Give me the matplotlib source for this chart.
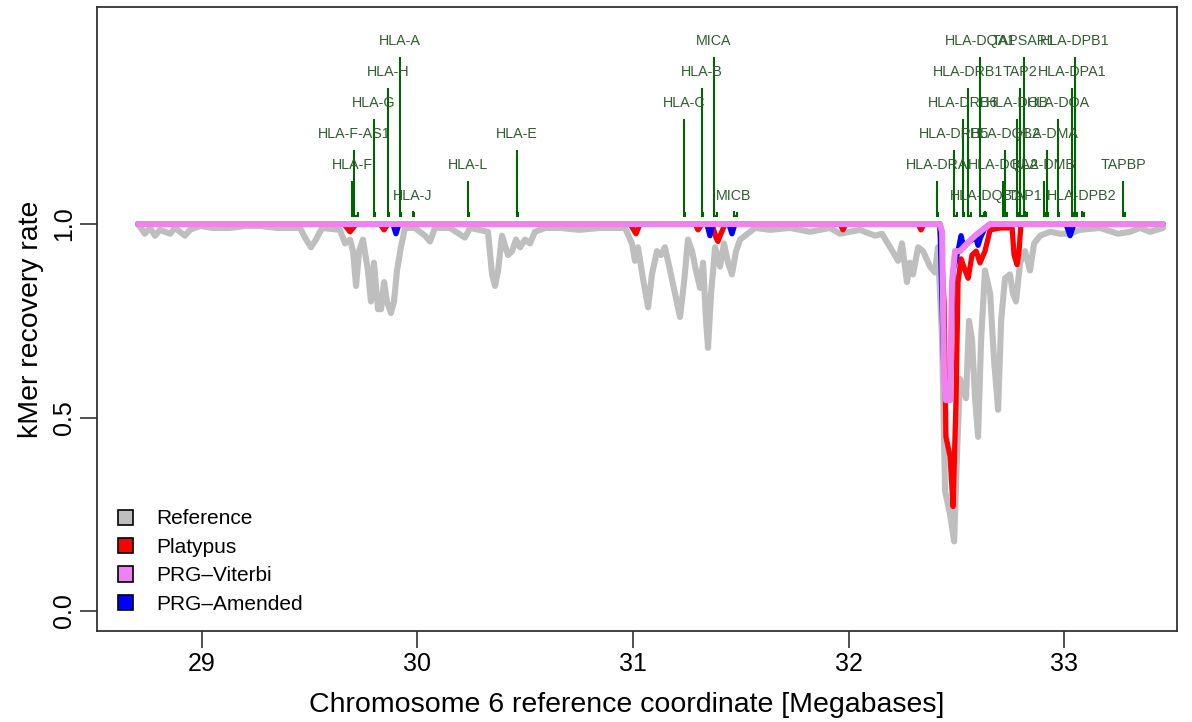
"""kMer recovery rate across the MHC region, chromosome 6."""

import matplotlib
matplotlib.use("Agg")
import matplotlib.pyplot as plt
from matplotlib.patches import Patch

plt.rcParams["font.family"] = ["Liberation Sans", "DejaVu Sans"]

# curves: position [Mb] and recovery rate
ref_x = [28.703, 28.735, 28.759, 28.782, 28.805, 28.852, 28.875, 28.921, 28.944, 28.991,
         29.050, 29.130, 29.200, 29.269, 29.350, 29.455, 29.483, 29.506, 29.529, 29.557,
         29.640, 29.664, 29.687, 29.701, 29.715, 29.729, 29.747, 29.770, 29.784, 29.798,
         29.817, 29.831, 29.845, 29.858, 29.877, 29.891, 29.905, 29.923, 29.942, 29.988,
         30.035, 30.058, 30.081, 30.151, 30.220, 30.244, 30.327, 30.346, 30.360, 30.374,
         30.392, 30.420, 30.439, 30.457, 30.476, 30.499, 30.522, 30.545, 30.592, 30.661,
         30.750, 30.847, 30.963, 30.995, 31.009, 31.023, 31.046, 31.070, 31.088, 31.111,
         31.130, 31.148, 31.172, 31.195, 31.218, 31.237, 31.255, 31.274, 31.292, 31.311,
         31.325, 31.339, 31.348, 31.362, 31.381, 31.404, 31.422, 31.441, 31.459, 31.478,
         31.497, 31.520, 31.566, 31.636, 31.729, 31.821, 31.914, 31.960, 32.053, 32.123,
         32.155, 32.193, 32.230, 32.248, 32.271, 32.285, 32.299, 32.323, 32.346, 32.378,
         32.401, 32.415, 32.434, 32.448, 32.471, 32.490, 32.503, 32.517, 32.531, 32.545,
         32.559, 32.573, 32.587, 32.601, 32.615, 32.633, 32.657, 32.675, 32.694, 32.708,
         32.726, 32.749, 32.763, 32.777, 32.796, 32.819, 32.842, 32.861, 32.889, 32.935,
         32.981, 33.028, 33.074, 33.167, 33.250, 33.306, 33.353, 33.399, 33.459]
ref_y = [1.00, 0.975, 0.99, 0.97, 0.985, 0.975, 0.99, 0.97, 0.985, 0.995,
         0.99, 0.99, 0.995, 0.995, 0.99, 0.99, 0.96, 0.94, 0.96, 0.99,
         0.985, 0.95, 0.96, 0.93, 0.84, 0.93, 0.96, 0.88, 0.80, 0.90,
         0.78, 0.78, 0.85, 0.80, 0.77, 0.80, 0.88, 0.94, 0.99, 0.99,
         0.97, 0.955, 0.99, 0.99, 0.965, 0.99, 0.98, 0.87, 0.84, 0.88,
         0.97, 0.92, 0.93, 0.96, 0.94, 0.96, 0.95, 0.98, 0.99, 0.99,
         0.985, 0.99, 0.99, 0.95, 0.905, 0.94, 0.86, 0.785, 0.87, 0.93,
         0.92, 0.94, 0.88, 0.82, 0.76, 0.85, 0.96, 0.93, 0.88, 0.835,
         0.90, 0.75, 0.68, 0.82, 0.94, 0.89, 0.95, 0.90, 0.87, 0.93,
         0.96, 0.97, 0.99, 0.985, 0.99, 0.98, 0.99, 0.975, 0.985, 0.97,
         0.975, 0.94, 0.905, 0.95, 0.85, 0.90, 0.87, 0.94, 0.93, 0.89,
         0.875, 0.94, 0.70, 0.31, 0.25, 0.18, 0.40, 0.60, 0.58, 0.55,
         0.75, 0.70, 0.55, 0.45, 0.70, 0.88, 0.82, 0.65, 0.52, 0.75,
         0.86, 0.87, 0.82, 0.80, 0.90, 0.93, 0.88, 0.95, 0.97, 0.98,
         0.975, 0.975, 0.985, 0.99, 0.975, 0.98, 0.99, 0.98, 0.99]

platypus_x = [28.703, 29.659, 29.687, 29.715, 29.826, 29.845, 29.863, 30.986, 31.014, 31.032,
              31.288, 31.302, 31.320, 31.367, 31.385, 31.394, 31.408, 31.427, 31.961, 31.974,
              31.988, 32.323, 32.336, 32.350, 32.424, 32.443, 32.452, 32.471, 32.485, 32.499,
              32.508, 32.522, 32.541, 32.555, 32.573, 32.592, 32.610, 32.633, 32.657, 32.703,
              32.759, 32.768, 32.782, 32.791, 32.800, 33.459]
platypus_y = [1.00, 1.00, 0.98, 1.00, 1.00, 0.985, 1.00, 1.00, 0.975, 1.00,
              1.00, 0.985, 1.00, 1.00, 0.965, 0.955, 0.975, 1.00, 1.00, 0.985,
              1.00, 1.00, 0.985, 1.00, 1.00, 0.80, 0.45, 0.40, 0.27, 0.55,
              0.85, 0.91, 0.88, 0.86, 0.92, 0.93, 0.90, 0.93, 0.985, 0.99,
              0.99, 0.92, 0.895, 0.93, 1.00, 1.00]

viterbi_x = [28.703, 32.424, 32.434, 32.443, 32.452, 32.471, 32.480, 32.494, 32.517, 32.541,
             32.587, 32.633, 32.657, 33.459]
viterbi_y = [1.00, 1.00, 0.98, 0.60, 0.545, 0.545, 0.85, 0.93, 0.93, 0.945,
             0.97, 0.99, 1.00, 1.00]

amended_x = [28.703, 29.886, 29.900, 29.914, 31.343, 31.357, 31.371, 31.445, 31.459, 31.473,
             32.424, 32.443, 32.471, 32.485, 32.508, 32.522, 32.535, 32.560, 32.590, 32.601,
             32.612, 32.633, 32.657, 33.009, 33.028, 33.046, 33.459]
amended_y = [1.00, 1.00, 0.975, 1.00, 1.00, 0.97, 1.00, 1.00, 0.975, 1.00,
             1.00, 0.60, 0.55, 0.88, 0.93, 0.97, 0.94, 0.955, 0.965, 0.945,
             0.965, 0.99, 1.00, 1.00, 0.97, 1.00, 1.00]

# genes: name, start and end [Mb]
gene_names = ["HLA-F", "HLA-F-AS1", "HLA-G", "HLA-H", "HLA-A", "HLA-J", "HLA-L", "HLA-E",
              "HLA-C", "HLA-B", "MICA", "MICB", "HLA-DRA", "HLA-DRB5", "HLA-DRB6", "HLA-DRB1",
              "HLA-DQA1", "HLA-DQB1", "HLA-DQA2", "HLA-DQB2", "HLA-DOB", "TAP2", "TAPSAR1",
              "TAP1", "HLA-DMB", "HLA-DMA", "HLA-DOA", "HLA-DPA1", "HLA-DPB1", "HLA-DPB2", "TAPBP"]
gene_start = [29.696, 29.705, 29.798, 29.863, 29.919, 29.979, 30.234, 30.462,
              31.237, 31.320, 31.376, 31.469, 32.411, 32.490, 32.531, 32.555,
              32.612, 32.633, 32.717, 32.726, 32.782, 32.796, 32.814,
              32.819, 32.907, 32.921, 32.972, 33.037, 33.051, 33.084, 33.274]
gene_end = [29.700, 29.722, 29.802, 29.866, 29.922, 29.983, 30.238, 30.466,
            31.240, 31.323, 31.392, 31.481, 32.416, 32.503, 32.538, 32.566,
            32.630, 32.640, 32.723, 32.733, 32.786, 32.813, 32.822,
            32.828, 32.913, 32.925, 32.977, 33.047, 33.062, 33.093, 33.285]

series = [
    ("Reference", ref_x, ref_y, "#BEBEBE", 4.4),
    ("Platypus", platypus_x, platypus_y, "#FF0000", 3.8),
    ("PRG\u2013Amended", amended_x, amended_y, "#0000FF", 3.8),
    ("PRG\u2013Viterbi", viterbi_x, viterbi_y, "#EE82EE", 4.4),
]
legend_order = ["Reference", "Platypus", "PRG\u2013Viterbi", "PRG\u2013Amended"]

W, H = 1192, 722
fig = plt.figure(figsize=(W / 100, H / 100), dpi=100, facecolor="white")
ax = fig.add_axes([97 / W, 1 - 631 / H, (1177 - 97) / W, (631 - 7) / H])

for name, xs, ys, col, lw in series:
    ax.plot(xs, ys, color=col, linewidth=lw, solid_joinstyle="round", solid_capstyle="round")

# gene brackets, stacked on six levels
gene_col = "#006400"
base = 1.021
for i, (nm, s, e) in enumerate(zip(gene_names, gene_start, gene_end)):
    level = (i + 1) % 6 + 1
    top = 1.03 + (level - 1) * 0.08
    ax.plot([s, s, e, e], [top, base, base, base + 0.008], color=gene_col, linewidth=1.5,
            solid_joinstyle="miter")
    ax.text(s, top + 0.043, nm, ha="center", va="center", fontsize=10.3, color="#2E5E2E")

ax.set_xlim(28.513, 33.524)
ax.set_ylim(-0.0517, 1.561)
ax.set_xticks([29, 30, 31, 32, 33])
ax.set_yticks([0.0, 0.5, 1.0])
ax.set_yticklabels(["0.0", "0.5", "1.0"], rotation=90, va="center")
ax.tick_params(axis="both", length=12, width=1.2, color="#333333", labelsize=18, pad=3)
for sp in ax.spines.values():
    sp.set_linewidth(1.3)
    sp.set_color("#333333")

ax.set_xlabel("Chromosome 6 reference coordinate [Megabases]", fontsize=20.5)
ax.xaxis.set_label_coords(0.49, -0.119, transform=ax.transAxes)
ax.xaxis.label.set_va("center")
ax.set_ylabel("kMer recovery rate", fontsize=20.5, labelpad=6)

colors = {nm: c for nm, _, _, c, _ in series}
handles = [Patch(facecolor=colors[nm], edgecolor="black", linewidth=1.2, label=nm)
           for nm in legend_order]
ax.legend(handles=handles, loc="lower left", bbox_to_anchor=(0.019, 0.028), frameon=False,
          fontsize=15, handlelength=0.75, handleheight=0.75, handletextpad=1.1,
          labelspacing=0.45, borderpad=0, borderaxespad=0)

fig.savefig("out.png", dpi=100, facecolor="white")
